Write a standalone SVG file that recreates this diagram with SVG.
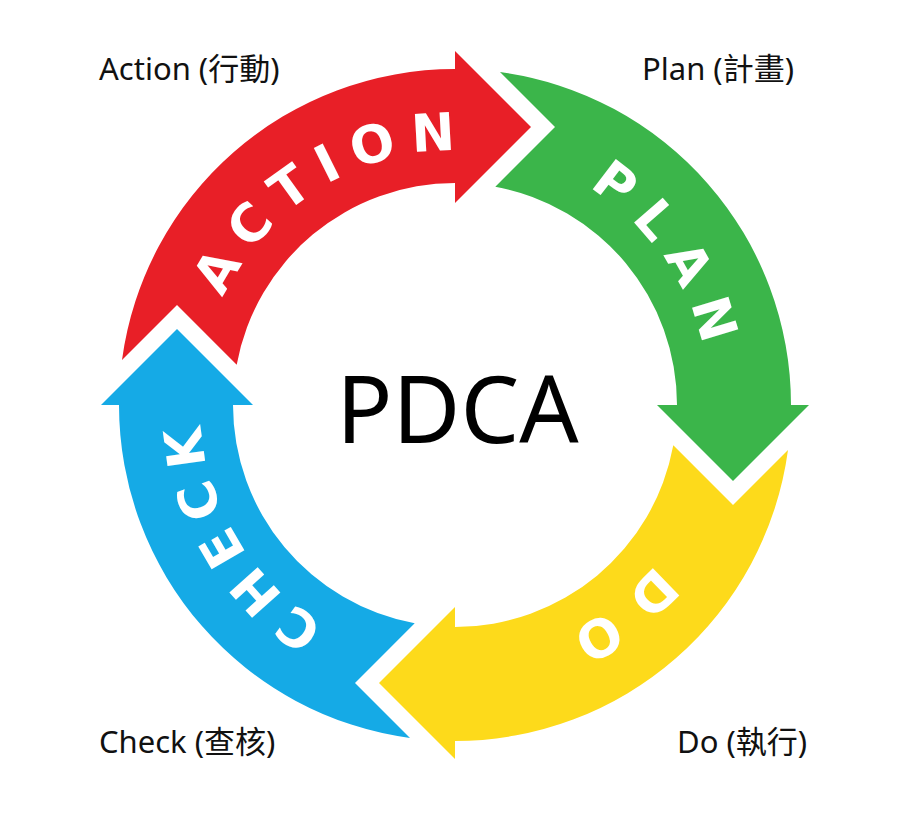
<svg xmlns="http://www.w3.org/2000/svg" xmlns:xlink="http://www.w3.org/1999/xlink" width="905" height="815" viewBox="0 0 905 815">
  <style>
    .lbl { font-family: "Noto Sans", "Noto Sans CJK TC", sans-serif; font-size: 31px; fill: #111; }
    .title { font-family: "Noto Sans", "Open Sans", sans-serif; font-size: 93px; fill: #000; }
    .arc { font-family: "DejaVu Sans", "Liberation Sans", sans-serif; font-weight: bold; font-size: 52px; fill: #fff; }
  </style>
  <defs>
    <path id="arrowShape" d="M 45.0 -333.0 A 336 336 0 0 1 336 0 L 354 0 L 278 76 L 202 0 L 222 0 A 222 222 0 0 0 40.3 -218.3 L 100 -278 Z"/>
    <path id="pAction" d="M 206.0 349.8 A 255 255 0 0 1 510.2 156.0" fill="none"/>
    <path id="pPlan" d="M 494.9 153.1 A 255 255 0 0 1 706.9 444.9" fill="none"/>
    <path id="pDo" d="M 708.7 430.8 A 255 255 0 0 1 429.2 658.7" fill="none"/>
    <path id="pCheck" d="M 397.6 653.5 A 255 255 0 0 1 206.5 347.6" fill="none"/>
  </defs>
  <rect width="905" height="815" fill="#fff"/>
  <g id="connectors"></g>
  <g id="plan">
    <use xlink:href="#arrowShape" href="#arrowShape" transform="translate(455,405)" fill="#3BB54A"/>
    <text class="arc" style="letter-spacing:15px"><textPath xlink:href="#pPlan" href="#pPlan" startOffset="51.8%" text-anchor="middle">PLAN</textPath></text>
  </g>
  <g id="do">
    <use xlink:href="#arrowShape" href="#arrowShape" transform="translate(455,405) rotate(90)" fill="#FDDA1B"/>
    <text class="arc" style="letter-spacing:22px"><textPath xlink:href="#pDo" href="#pDo" startOffset="52.7%" text-anchor="middle">DO</textPath></text>
  </g>
  <g id="check">
    <use xlink:href="#arrowShape" href="#arrowShape" transform="translate(455,405) rotate(180)" fill="#15AAE6"/>
    <text class="arc" style="letter-spacing:12px"><textPath xlink:href="#pCheck" href="#pCheck" startOffset="51.5%" text-anchor="middle">CHECK</textPath></text>
  </g>
  <g id="action">
    <use xlink:href="#arrowShape" href="#arrowShape" transform="translate(455,405) rotate(270)" fill="#E81F27"/>
    <text class="arc" style="letter-spacing:14px"><textPath xlink:href="#pAction" href="#pAction" startOffset="51.7%" text-anchor="middle">ACTION</textPath></text>
  </g>
  <g id="center">
    <text class="title" x="457.5" y="443" text-anchor="middle">PDCA</text>
  </g>
  <g id="labels">
    <text class="lbl" x="99" y="80">Action (行動)</text>
    <text class="lbl" x="642" y="80">Plan (計畫)</text>
    <text class="lbl" x="99" y="753">Check (查核)</text>
    <text class="lbl" x="677" y="753">Do (執行)</text>
  </g>
</svg>
